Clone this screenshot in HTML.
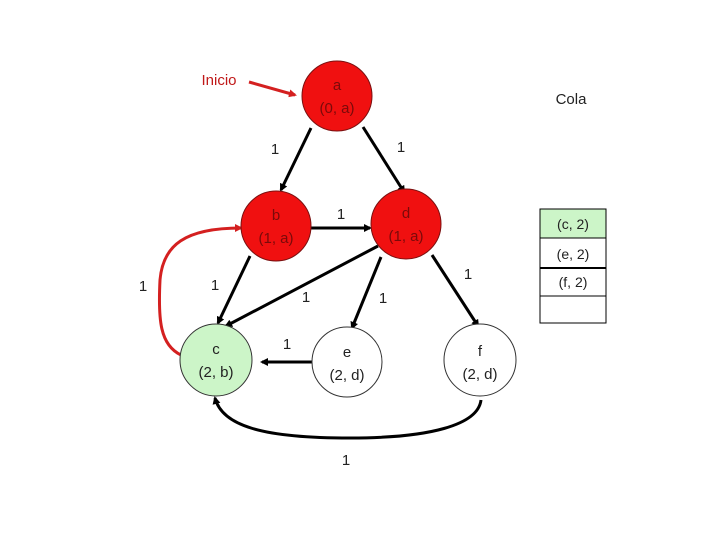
<!DOCTYPE html>
<html><head><meta charset="utf-8"><style>
body{margin:0;background:#fff}
svg text{font-family:"Liberation Sans",sans-serif}
</style></head><body>
<svg width="720" height="540" viewBox="0 0 720 540" xmlns="http://www.w3.org/2000/svg">
<defs>
<marker id="ak" markerWidth="8" markerHeight="8" refX="6" refY="4" orient="auto" markerUnits="userSpaceOnUse"><path d="M0,0 L8,4 L0,8 z" fill="#000"/></marker>
<marker id="ar" markerWidth="8" markerHeight="8" refX="6" refY="4" orient="auto" markerUnits="userSpaceOnUse"><path d="M0,0 L8,4 L0,8 z" fill="#d42020"/></marker>
</defs>
<g stroke="#000" stroke-width="3" fill="none" marker-end="url(#ak)">
<line x1="311" y1="128" x2="281" y2="190"/>
<line x1="363" y1="127" x2="404" y2="192"/>
<line x1="311" y1="228" x2="370" y2="228"/>
<line x1="250" y1="256" x2="218" y2="323"/>
<line x1="378" y1="246" x2="226" y2="326"/>
<line x1="381" y1="257" x2="352" y2="328"/>
<line x1="432" y1="255" x2="478" y2="326"/>
<line x1="312" y1="362" x2="262" y2="362"/>
<path d="M481,400 C478,425 430,438 350,438 C260,438 222,425 215,398"/>
</g>
<g stroke="#d42020" stroke-width="3" fill="none" marker-end="url(#ar)">
<path d="M181,355 C160,345 158,320 160,280 C163,245 185,228 241,228"/>
<line x1="249" y1="82" x2="295" y2="95"/>
</g>
<g stroke="#7a1010" stroke-width="1">
<circle cx="337" cy="96" r="35" fill="#f01010"/>
<circle cx="276" cy="226" r="35" fill="#f01010"/>
<circle cx="406" cy="224" r="35" fill="#f01010"/>
</g>
<circle cx="216" cy="360" r="36" fill="#ccf5c8" stroke="#333" stroke-width="1"/>
<circle cx="347" cy="362" r="35" fill="#fff" stroke="#333" stroke-width="1"/>
<circle cx="480" cy="360" r="36" fill="#fff" stroke="#333" stroke-width="1"/>
<g font-size="15" text-anchor="middle" fill="#7a0a0a">
<text x="337" y="90">a</text><text x="337" y="113">(0, a)</text>
<text x="276" y="220">b</text><text x="276" y="243">(1, a)</text>
<text x="406" y="218">d</text><text x="406" y="241">(1, a)</text>
</g>
<g font-size="15" text-anchor="middle" fill="#222">
<text x="216" y="354">c</text><text x="216" y="377">(2, b)</text>
<text x="347" y="357">e</text><text x="347" y="380">(2, d)</text>
<text x="480" y="356">f</text><text x="480" y="379">(2, d)</text>
<text x="275" y="154">1</text><text x="401" y="152">1</text>
<text x="341" y="219">1</text><text x="143" y="291">1</text>
<text x="215" y="290">1</text><text x="306" y="302">1</text>
<text x="383" y="303">1</text><text x="468" y="279">1</text>
<text x="287" y="349">1</text><text x="346" y="465">1</text>
<text x="571" y="104">Cola</text>
</g>
<text x="219" y="85" font-size="15" text-anchor="middle" fill="#c01818">Inicio</text>
<rect x="540" y="209" width="66" height="29" fill="#ccf5c8" stroke="#000"/>
<rect x="540" y="238" width="66" height="30" fill="#fff" stroke="#000"/>
<rect x="540" y="268" width="66" height="28" fill="#fff" stroke="#000"/>
<line x1="540" y1="268" x2="606" y2="268" stroke="#000" stroke-width="2"/>
<rect x="540" y="296" width="66" height="27" fill="#fff" stroke="#000"/>
<g font-size="14" text-anchor="middle" fill="#222">
<text x="573" y="229">(c, 2)</text><text x="573" y="259">(e, 2)</text><text x="573" y="287">(f, 2)</text>
</g>
</svg>
</body></html>
